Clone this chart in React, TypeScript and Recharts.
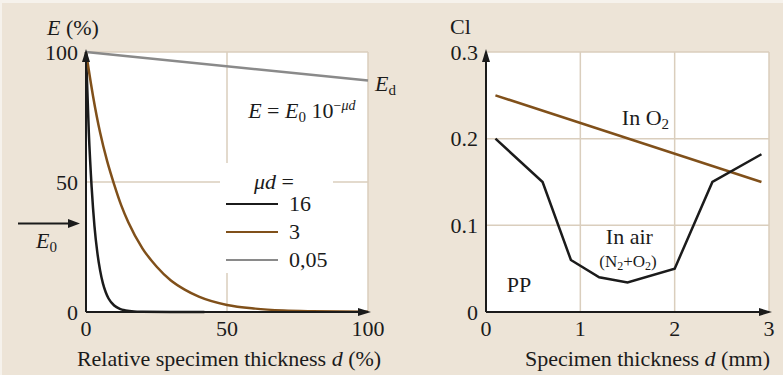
import React from 'react';
import { LineChart, Line, XAxis, YAxis, CartesianGrid, ReferenceDot, Legend } from 'recharts';

const serif = '"Liberation Serif", "DejaVu Serif", serif';
const ink = '#1b1b1b';
const brown = '#80501a';
const grey = '#8a8a8a';
const gridColor = '#dacebd';

// left panel: E (%) vs relative specimen thickness d (%)
const seriesNames = ['16', '3', '0,05'];
const seriesColors = [ink, brown, grey];
const d16 = [0, 1, 2, 3, 4, 5, 6, 7, 8, 10, 12, 14, 17, 20, 30, 42];
const e16 = [100, 69, 48, 33, 23, 16, 11, 7.6, 5.2, 2.5, 1.2, 0.6, 0.2, 0.1, 0, 0];
const d3 = [0, 2.5, 5, 7.5, 10, 12.5, 15, 20, 25, 30, 35, 40, 50, 60, 70, 80, 90, 100];
const e3 = [100, 83, 69, 58, 49, 41, 34.5, 24.5, 17.5, 12.2, 8.6, 5.9, 2.7, 1.3, 0.6, 0.3, 0.15, 0.1];
const d005 = [0, 100];
const e005 = [100, 89];
const leftTicks = [0, 50, 100];

// right panel: Cl vs specimen thickness d (mm)
const airX = [0.1, 0.6, 0.9, 1.2, 1.5, 2.0, 2.4, 2.92];
const airY = [0.2, 0.15, 0.06, 0.04, 0.034, 0.05, 0.15, 0.182];
const o2X = [0.1, 2.92];
const o2Y = [0.25, 0.15];
const rightXTicks = [0, 1, 2, 3];
const rightYTicks = [0, 0.1, 0.2, 0.3];

const zip = (xs: number[], ys: number[]) => xs.map((x, i) => ({ x, y: ys[i] }));
const leftSeries = [zip(d16, e16), zip(d3, e3), zip(d005, e005)];
const airData = zip(airX, airY);
const o2Data = zip(o2X, o2Y);

const FS = 22;
const tickStyle = { fill: ink, fontSize: FS, fontFamily: serif };
const axisLine = { stroke: ink, strokeWidth: 2 };

const UpArrow = (p: any) => (
  <polygon points={`${p.cx},${p.cy - 3} ${p.cx - 4},${p.cy + 10} ${p.cx + 4},${p.cy + 10}`} fill={ink} />
);
const RightArrow = (p: any) => (
  <polygon points={`${p.cx + 3},${p.cy} ${p.cx - 10},${p.cy - 4} ${p.cx - 10},${p.cy + 4}`} fill={ink} />
);

const LegendBox = (props: any) => {
  const items = [...(props.payload || [])].sort(
    (a: any, b: any) => seriesNames.indexOf(a.value) - seriesNames.indexOf(b.value)
  );
  return (
    <div style={{ background: '#fff', width: 113, height: 110, boxSizing: 'border-box', paddingTop: 8, fontFamily: serif, fontSize: FS, color: ink }}>
      <div style={{ lineHeight: '22px', paddingLeft: 34, marginBottom: -3 }}>
        <i>μd</i> =
      </div>
      {items.map((it: any) => (
        <div key={it.value} style={{ display: 'flex', alignItems: 'center', height: 28 }}>
          <span style={{ display: 'inline-block', width: 52, height: 0, borderTop: `2.5px solid ${it.color}`, marginLeft: 6, marginRight: 11 }} />
          <span>{it.value}</span>
        </div>
      ))}
    </div>
  );
};

export default function App() {
  return (
    <div style={{ position: 'absolute', left: 0, top: 0, width: 783, height: 375, background: '#f6f2ec', fontFamily: serif }}>
      <div style={{ position: 'absolute', left: 2, top: 3, right: 0, bottom: 0, background: '#ede4d7' }} />

      <div style={{ position: 'absolute', left: 0, top: 0 }}>
        <LineChart width={400} height={375} margin={{ top: 52, right: 32, bottom: 0, left: 0 }}>
          <CartesianGrid stroke={gridColor} strokeWidth={1.5} fill="#fff" fillOpacity={1} />
          <XAxis
            type="number"
            dataKey="x"
            domain={[0, 100]}
            ticks={leftTicks}
            height={63}
            tick={tickStyle}
            tickLine={false}
            axisLine={axisLine}
            label={(p: any) => (
              <text x={229} y={366} textAnchor="middle" fontSize={FS} fontFamily={serif} fill={ink}>
                Relative specimen thickness <tspan fontStyle="italic">d</tspan> (%)
              </text>
            )}
          />
          <YAxis
            type="number"
            domain={[0, 100]}
            ticks={leftTicks}
            width={86}
            tick={tickStyle}
            tickLine={false}
            axisLine={axisLine}
            label={(p: any) => (
              <text x={47} y={35} fontSize={FS} fontFamily={serif} fill={ink}>
                <tspan fontStyle="italic">E</tspan> (%)
              </text>
            )}
          />
          {leftSeries.map((data, i) => (
            <Line
              key={seriesNames[i]}
              data={data}
              dataKey="y"
              name={seriesNames[i]}
              type="monotone"
              stroke={seriesColors[i]}
              strokeWidth={2.5}
              dot={false}
              isAnimationActive={false}
            />
          ))}
          <ReferenceDot x={0} y={100} r={0} ifOverflow="visible" shape={UpArrow} />
          <ReferenceDot x={100} y={0} r={0} ifOverflow="visible" shape={RightArrow} />
          <ReferenceDot
            x={0}
            y={34}
            r={0}
            ifOverflow="visible"
            shape={(p: any) => (
              <g>
                <line x1={p.cx - 68} y1={p.cy} x2={p.cx - 16} y2={p.cy} stroke={ink} strokeWidth={2} />
                <polygon points={`${p.cx - 6},${p.cy} ${p.cx - 18},${p.cy - 4.5} ${p.cx - 18},${p.cy + 4.5}`} fill={ink} />
                <text x={p.cx - 50} y={p.cy + 24} fontSize={FS} fontFamily={serif} fill={ink}>
                  <tspan fontStyle="italic">E</tspan>
                  <tspan fontSize={15} dy={4}>0</tspan>
                </text>
              </g>
            )}
          />
          <ReferenceDot
            x={100}
            y={89}
            r={0}
            ifOverflow="visible"
            shape={(p: any) => (
              <text x={p.cx + 7} y={p.cy + 10} fontSize={FS} fontFamily={serif} fill={ink}>
                <tspan fontStyle="italic">E</tspan>
                <tspan fontSize={15} dy={4}>d</tspan>
              </text>
            )}
          />
          <ReferenceDot
            x={57.5}
            y={74.5}
            r={0}
            ifOverflow="visible"
            shape={(p: any) => (
              <text x={p.cx} y={p.cy} fontSize={FS} fontFamily={serif} fill={ink}>
                <tspan fontStyle="italic">E</tspan>
                <tspan> = </tspan>
                <tspan fontStyle="italic">E</tspan>
                <tspan fontSize={15} dy={4}>0</tspan>
                <tspan dy={-4}> 10</tspan>
                <tspan fontSize={14} dy={-8}>−</tspan>
                <tspan fontSize={14} fontStyle="italic">μd</tspan>
              </text>
            )}
          />
          <Legend
            layout="horizontal"
            verticalAlign="middle"
            align="center"
            content={LegendBox}
            wrapperStyle={{ position: 'absolute', left: 220, top: 163, width: 113, height: 110 }}
          />
        </LineChart>
      </div>

      <div style={{ position: 'absolute', left: 400, top: 0 }}>
        <LineChart width={383} height={375} margin={{ top: 52, right: 14, bottom: 0, left: 0 }}>
          <CartesianGrid stroke={gridColor} strokeWidth={1.5} fill="#fff" fillOpacity={1} />
          <XAxis
            type="number"
            dataKey="x"
            domain={[0, 3]}
            ticks={rightXTicks}
            height={63}
            tick={tickStyle}
            tickLine={false}
            axisLine={axisLine}
            label={(p: any) => (
              <text x={370} y={366} textAnchor="end" fontSize={FS} fontFamily={serif} fill={ink}>
                Specimen thickness <tspan fontStyle="italic">d</tspan> (mm)
              </text>
            )}
          />
          <YAxis
            type="number"
            domain={[0, 0.3]}
            ticks={rightYTicks}
            tickFormatter={(v: number) => (v === 0 ? '0' : v.toFixed(1))}
            width={86}
            tick={tickStyle}
            tickLine={false}
            axisLine={axisLine}
            label={(p: any) => (
              <text x={50} y={34} fontSize={FS} fontFamily={serif} fill={ink}>
                Cl
              </text>
            )}
          />
          <Line data={o2Data} dataKey="y" name="In O2" type="linear" stroke={brown} strokeWidth={2.5} dot={false} isAnimationActive={false} />
          <Line data={airData} dataKey="y" name="In air" type="linear" stroke={ink} strokeWidth={2.5} dot={false} isAnimationActive={false} />
          <ReferenceDot x={0} y={0.3} r={0} ifOverflow="visible" shape={UpArrow} />
          <ReferenceDot x={3} y={0} r={0} ifOverflow="visible" shape={RightArrow} />
          <ReferenceDot
            x={1.44}
            y={0.216}
            r={0}
            ifOverflow="visible"
            shape={(p: any) => (
              <text x={p.cx} y={p.cy} fontSize={FS} fontFamily={serif} fill={ink}>
                In O<tspan fontSize={15} dy={4}>2</tspan>
              </text>
            )}
          />
          <ReferenceDot
            x={1.52}
            y={0.078}
            r={0}
            ifOverflow="visible"
            shape={(p: any) => (
              <text x={p.cx} y={p.cy} textAnchor="middle" fontSize={FS} fontFamily={serif} fill={ink}>
                In air
              </text>
            )}
          />
          <ReferenceDot
            x={1.505}
            y={0.052}
            r={0}
            ifOverflow="visible"
            shape={(p: any) => (
              <text x={p.cx} y={p.cy} textAnchor="middle" fontSize={17} fontFamily={serif} fill={ink}>
                (N<tspan fontSize={12} dy={3}>2</tspan>
                <tspan dy={-3}>+O</tspan>
                <tspan fontSize={12} dy={3}>2</tspan>
                <tspan dy={-3}>)</tspan>
              </text>
            )}
          />
          <ReferenceDot
            x={0.22}
            y={0.023}
            r={0}
            ifOverflow="visible"
            shape={(p: any) => (
              <text x={p.cx} y={p.cy} fontSize={FS} fontFamily={serif} fill={ink}>
                PP
              </text>
            )}
          />
        </LineChart>
      </div>
    </div>
  );
}
